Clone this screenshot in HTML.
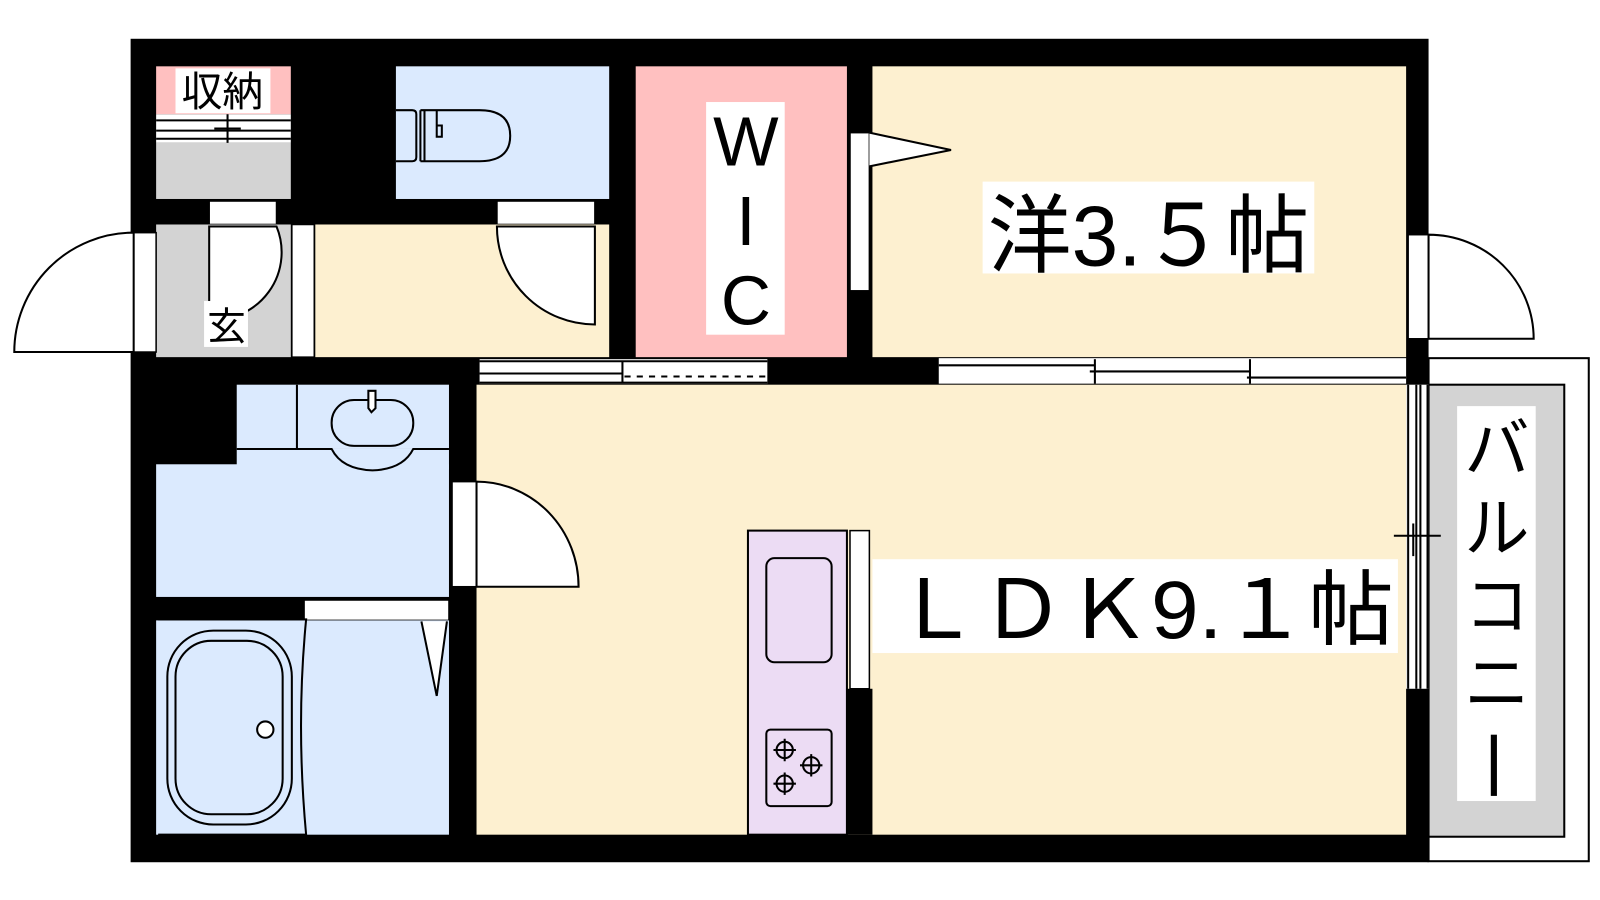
<!DOCTYPE html>
<html><head><meta charset="utf-8"><style>
html,body{margin:0;padding:0;background:#fff;}
svg{display:block;}
text{font-family:"Liberation Sans","Noto Sans CJK JP",sans-serif;fill:#000;}
</style></head><body>
<svg width="1600" height="900" viewBox="0 0 1600 900" xmlns="http://www.w3.org/2000/svg">
<g transform="scale(1.0204)">
<!-- balcony -->
<rect x="1400" y="351" width="157" height="493" fill="#fff" stroke="#000" stroke-width="2"/>
<rect x="1400" y="377" width="133" height="443" fill="#d3d3d3" stroke="#000" stroke-width="2"/>
<rect x="1428" y="398" width="77" height="387" fill="#fff"/>
<text x="1467" y="462" font-size="64" text-anchor="middle">バ</text>
<text x="1467" y="540" font-size="64" text-anchor="middle">ル</text>
<text x="1467" y="616" font-size="64" text-anchor="middle">コ</text>
<text x="1467" y="692" font-size="64" text-anchor="middle">ニ</text>
<rect x="1461" y="720" width="6" height="60" fill="#000"/>
<!-- outer walls -->
<rect x="128" y="38" width="1272" height="807" fill="#000"/>
<!-- rooms -->
<rect x="153" y="65" width="132" height="47" fill="#ffc0c0"/>
<rect x="153" y="112" width="132" height="28" fill="#fff"/>
<line x1="153" y1="118" x2="285" y2="118" stroke="#000" stroke-width="2"/>
<line x1="153" y1="128" x2="285" y2="128" stroke="#000" stroke-width="2"/>
<line x1="153" y1="136" x2="285" y2="136" stroke="#000" stroke-width="2"/>
<line x1="223" y1="112" x2="223" y2="152" stroke="#000" stroke-width="2"/>
<line x1="210" y1="126" x2="236" y2="126" stroke="#000" stroke-width="2"/>
<rect x="153" y="140" width="132" height="55" fill="#d3d3d3"/>
<rect x="172" y="67" width="93" height="44" fill="#fff"/>
<text x="218" y="104" font-size="40" text-anchor="middle">収納</text>
<!-- toilet -->
<rect x="388" y="65" width="209" height="130" fill="#dbeafe"/>
<path d="M388 108 H404 Q408 108 408 112 V154 Q408 158 404 158 H388" fill="none" stroke="#000" stroke-width="2"/>
<path d="M412 108 V158 M416 108 V158 M412 108 H470 Q500 108 500 133 Q500 158 470 158 H412" fill="none" stroke="#000" stroke-width="2"/>
<path d="M428 108 V134 L433 134 L433 123 L428 123" fill="none" stroke="#000" stroke-width="2"/>
<!-- door openings row -->
<rect x="205" y="197" width="66" height="23" fill="#fff" stroke="#000" stroke-width="1.5"/>
<rect x="487" y="197" width="96" height="23" fill="#fff" stroke="#000" stroke-width="1.5"/>
<!-- genkan -->
<rect x="153" y="220" width="132" height="130" fill="#d3d3d3"/>
<path d="M205 222 V313 A66 66 0 0 0 271 222 Z" fill="#fff" stroke="#000" stroke-width="2"/>
<rect x="200" y="295" width="43" height="45" fill="#fff"/>
<text x="222" y="333" font-size="38" text-anchor="middle">玄</text>
<rect x="131" y="228" width="22" height="117" fill="#fff" stroke="#000" stroke-width="1.5"/>
<path d="M131 228 A117 117 0 0 0 14 345 H131 Z" fill="#fff" stroke="#000" stroke-width="2"/>
<rect x="286" y="220" width="22" height="130" fill="#fff" stroke="#000" stroke-width="1.5"/>
<!-- hall -->
<rect x="309" y="220" width="288" height="130" fill="#fdf0d0"/>
<path d="M487 222 A96 96 0 0 0 583 318 V222 Z" fill="#fff" stroke="#000" stroke-width="2"/>
<!-- WIC -->
<rect x="623" y="65" width="207" height="285" fill="#ffc0c0"/>
<rect x="692" y="100" width="77" height="228" fill="#fff"/>
<text x="731" y="162" font-size="68" text-anchor="middle">W</text>
<text x="731" y="240" font-size="68" text-anchor="middle">I</text>
<text x="731" y="318" font-size="68" text-anchor="middle">C</text>
<!-- 洋 -->
<rect x="855" y="65" width="523" height="285" fill="#fdf0d0"/>
<rect x="833" y="130" width="19" height="155" fill="#fff" stroke="#000" stroke-width="1.5"/>
<path d="M852 130 L932 147 L852 163" fill="#fff" stroke="#000" stroke-width="2"/>
<rect x="963" y="178" width="325" height="90" fill="#fff"/>
<text x="968" y="260" font-size="84" textLength="315" lengthAdjust="spacingAndGlyphs">洋3.５帖</text>
<rect x="1380" y="230" width="20" height="102" fill="#fff" stroke="#000" stroke-width="1.5"/>
<path d="M1400 230 A103 102 0 0 1 1503 332 H1400 Z" fill="#fff" stroke="#000" stroke-width="2"/>
<!-- mid wall openings -->
<rect x="470" y="352" width="282" height="24" fill="#fff"/>
<line x1="470" y1="354" x2="752" y2="354" stroke="#000" stroke-width="2"/>
<line x1="470" y1="366" x2="610" y2="366" stroke="#000" stroke-width="2"/>
<line x1="470" y1="375" x2="752" y2="375" stroke="#000" stroke-width="2"/>
<line x1="610" y1="354" x2="610" y2="375" stroke="#000" stroke-width="2"/>
<line x1="612" y1="369" x2="752" y2="369" stroke="#000" stroke-width="2" stroke-dasharray="6 6"/>
<rect x="920" y="351" width="458" height="25" fill="#fff"/>
<line x1="920" y1="358" x2="1073" y2="358" stroke="#000" stroke-width="2"/>
<line x1="1068" y1="364" x2="1225" y2="364" stroke="#000" stroke-width="2"/>
<line x1="1222" y1="370" x2="1378" y2="370" stroke="#000" stroke-width="2"/>
<line x1="1073" y1="352" x2="1073" y2="376" stroke="#000" stroke-width="2"/>
<line x1="1225" y1="352" x2="1225" y2="376" stroke="#000" stroke-width="2"/>
<!-- wash room -->
<rect x="232" y="377" width="208" height="63" fill="#dbeafe"/>
<rect x="153" y="455" width="287" height="130" fill="#dbeafe"/>
<rect x="232" y="440" width="208" height="20" fill="#dbeafe"/>
<line x1="291" y1="377" x2="291" y2="440" stroke="#000" stroke-width="2"/>
<path d="M232 440 H325 Q335 460 365 461 Q395 460 405 440 H440" fill="none" stroke="#000" stroke-width="2"/>
<rect x="325" y="392" width="80" height="45" rx="22" fill="none" stroke="#000" stroke-width="2"/>
<path d="M361 383 H368 V400 L364 404 L361 400 Z" fill="#fff" stroke="#000" stroke-width="2"/>
<rect x="298" y="588" width="142" height="20" fill="#fff" stroke="#000" stroke-width="1.5"/>
<!-- bath -->
<rect x="153" y="608" width="287" height="210" fill="#dbeafe"/>
<path d="M155 607 H300 Q290 710 300 818 H155" fill="none" stroke="#000" stroke-width="2"/>
<rect x="164" y="618" width="122" height="190" rx="45" fill="none" stroke="#000" stroke-width="2"/>
<rect x="172" y="628" width="105" height="170" rx="35" fill="none" stroke="#000" stroke-width="2"/>
<circle cx="260" cy="715" r="8" fill="#fff" stroke="#000" stroke-width="2"/>
<path d="M413 609 L428 682 L438 609" fill="#fff" stroke="#000" stroke-width="2"/>
<!-- LDK -->
<rect x="467" y="377" width="911" height="441" fill="#fdf0d0"/>
<rect x="443" y="472" width="24" height="103" fill="#fff" stroke="#000" stroke-width="1.5"/>
<path d="M467 472 A100 103 0 0 1 567 575 H467 Z" fill="#fff" stroke="#000" stroke-width="2"/>
<rect x="733" y="520" width="97" height="298" fill="#ecdcf4" stroke="#000" stroke-width="2"/>
<rect x="751" y="547" width="64" height="102" rx="8" fill="none" stroke="#000" stroke-width="2"/>
<rect x="751" y="715" width="64" height="75" rx="4" fill="none" stroke="#000" stroke-width="2"/>
<g fill="none" stroke="#000" stroke-width="2">
<circle cx="769" cy="735" r="8"/><circle cx="795" cy="750" r="8"/><circle cx="769" cy="768" r="8"/>
<path d="M769 724V746M758 735H780M795 739V761M784 750H806M769 757V779M758 768H780"/>
</g>
<rect x="830" y="675" width="25" height="143" fill="#000"/>
<rect x="833" y="520" width="19" height="155" fill="#fff" stroke="#000" stroke-width="1.5"/>
<rect x="855" y="548" width="515" height="92" fill="#fff"/>
<text x="876" y="625" font-size="80" textLength="490" lengthAdjust="spacingAndGlyphs">ＬＤＫ9.１帖</text>
<!-- right window -->
<rect x="1378" y="377" width="22" height="298" fill="#fff"/>
<line x1="1380" y1="377" x2="1380" y2="675" stroke="#000" stroke-width="2"/>
<line x1="1388" y1="377" x2="1388" y2="675" stroke="#000" stroke-width="2"/>
<line x1="1392" y1="377" x2="1392" y2="675" stroke="#000" stroke-width="2"/>
<line x1="1399" y1="377" x2="1399" y2="675" stroke="#000" stroke-width="2"/>
<line x1="1366" y1="525" x2="1412" y2="525" stroke="#000" stroke-width="2"/>
<line x1="1385" y1="513" x2="1385" y2="545" stroke="#000" stroke-width="2"/>
</g>
</svg>
</body></html>
